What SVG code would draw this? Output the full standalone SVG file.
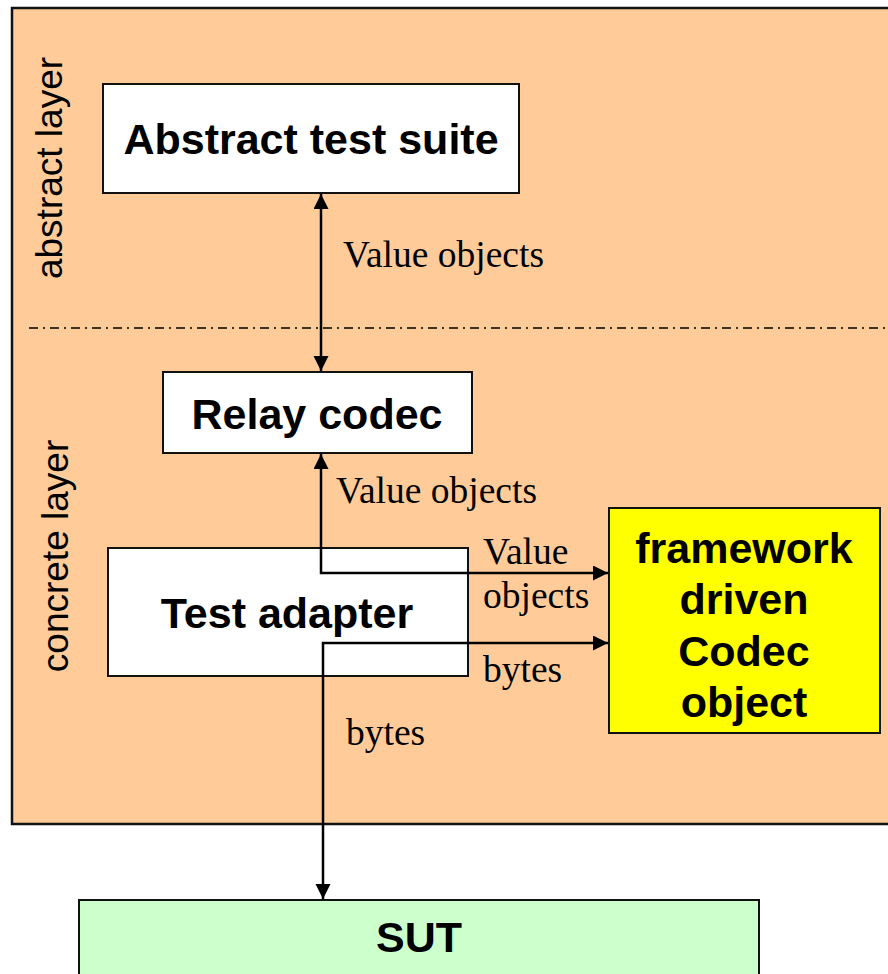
<svg xmlns="http://www.w3.org/2000/svg" width="888" height="974" viewBox="0 0 888 974">
  <style>
    .box { stroke: #111; stroke-width: 2; }
    .title { font-family: "Liberation Sans", Arial, sans-serif; font-weight: bold; font-size: 43px; fill: #000; text-anchor: middle; }
    .layer { font-family: "Liberation Sans", Arial, sans-serif; font-size: 37px; fill: #000; text-anchor: middle; }
    .lbl { font-family: "Liberation Serif", "Times New Roman", serif; font-size: 37.5px; fill: #000; }
    .conn { fill: none; stroke: #000; stroke-width: 2.5; }
  </style>
  <defs>
    <marker id="head" markerUnits="userSpaceOnUse" markerWidth="16" markerHeight="16" viewBox="0 0 16 16" refX="15" refY="7.5" orient="auto-start-reverse">
      <path d="M0,0 L15,7.5 L0,15 z" fill="#000"/>
    </marker>
  </defs>

  <!-- test system background with its two layers -->
  <g id="test-system">
    <rect x="12" y="8" width="890" height="816" fill="#FFCC99" stroke="#111" stroke-width="2.5"/>
    <line x1="29" y1="328" x2="888" y2="328" stroke="#000" stroke-width="1.5" stroke-dasharray="9 5 2 5"/>
    <text class="layer" transform="translate(62,168) rotate(-90)">abstract layer</text>
    <text class="layer" transform="translate(68,556) rotate(-90)">concrete layer</text>
  </g>

  <g id="abstract-test-suite">
    <rect class="box" x="103" y="84" width="416" height="109" fill="#fff"/>
    <text class="title" x="311" y="154">Abstract test suite</text>
  </g>

  <g id="relay-codec">
    <rect class="box" x="163" y="372" width="309" height="81" fill="#fff"/>
    <text class="title" x="317" y="429">Relay codec</text>
  </g>

  <g id="test-adapter">
    <rect class="box" x="108" y="548" width="360" height="128" fill="#fff"/>
    <text class="title" x="287" y="628">Test adapter</text>
  </g>

  <g id="codec-object">
    <rect class="box" x="609" y="508" width="271" height="225" fill="#FFFF00"/>
    <text class="title" x="744" y="563">framework</text>
    <text class="title" x="744" y="614">driven</text>
    <text class="title" x="744" y="666">Codec</text>
    <text class="title" x="744" y="717">object</text>
  </g>

  <g id="sut">
    <rect class="box" x="79" y="900" width="680" height="90" fill="#CCFFCC"/>
    <text class="title" x="419" y="952">SUT</text>
  </g>

  <!-- connectors -->
  <g id="connectors">
    <line class="conn" x1="321" y1="194" x2="321" y2="371" marker-start="url(#head)" marker-end="url(#head)"/>
    <polyline class="conn" points="321,454 321,573 608,573" marker-start="url(#head)" marker-end="url(#head)"/>
    <polyline class="conn" points="608,643 323,643 323,899" marker-start="url(#head)" marker-end="url(#head)"/>
    <text class="lbl" x="343" y="267">Value objects</text>
    <text class="lbl" x="336" y="503">Value objects</text>
    <text class="lbl" x="483" y="564">Value</text>
    <text class="lbl" x="483" y="608">objects</text>
    <text class="lbl" x="483" y="682">bytes</text>
    <text class="lbl" x="346" y="745">bytes</text>
  </g>
</svg>
